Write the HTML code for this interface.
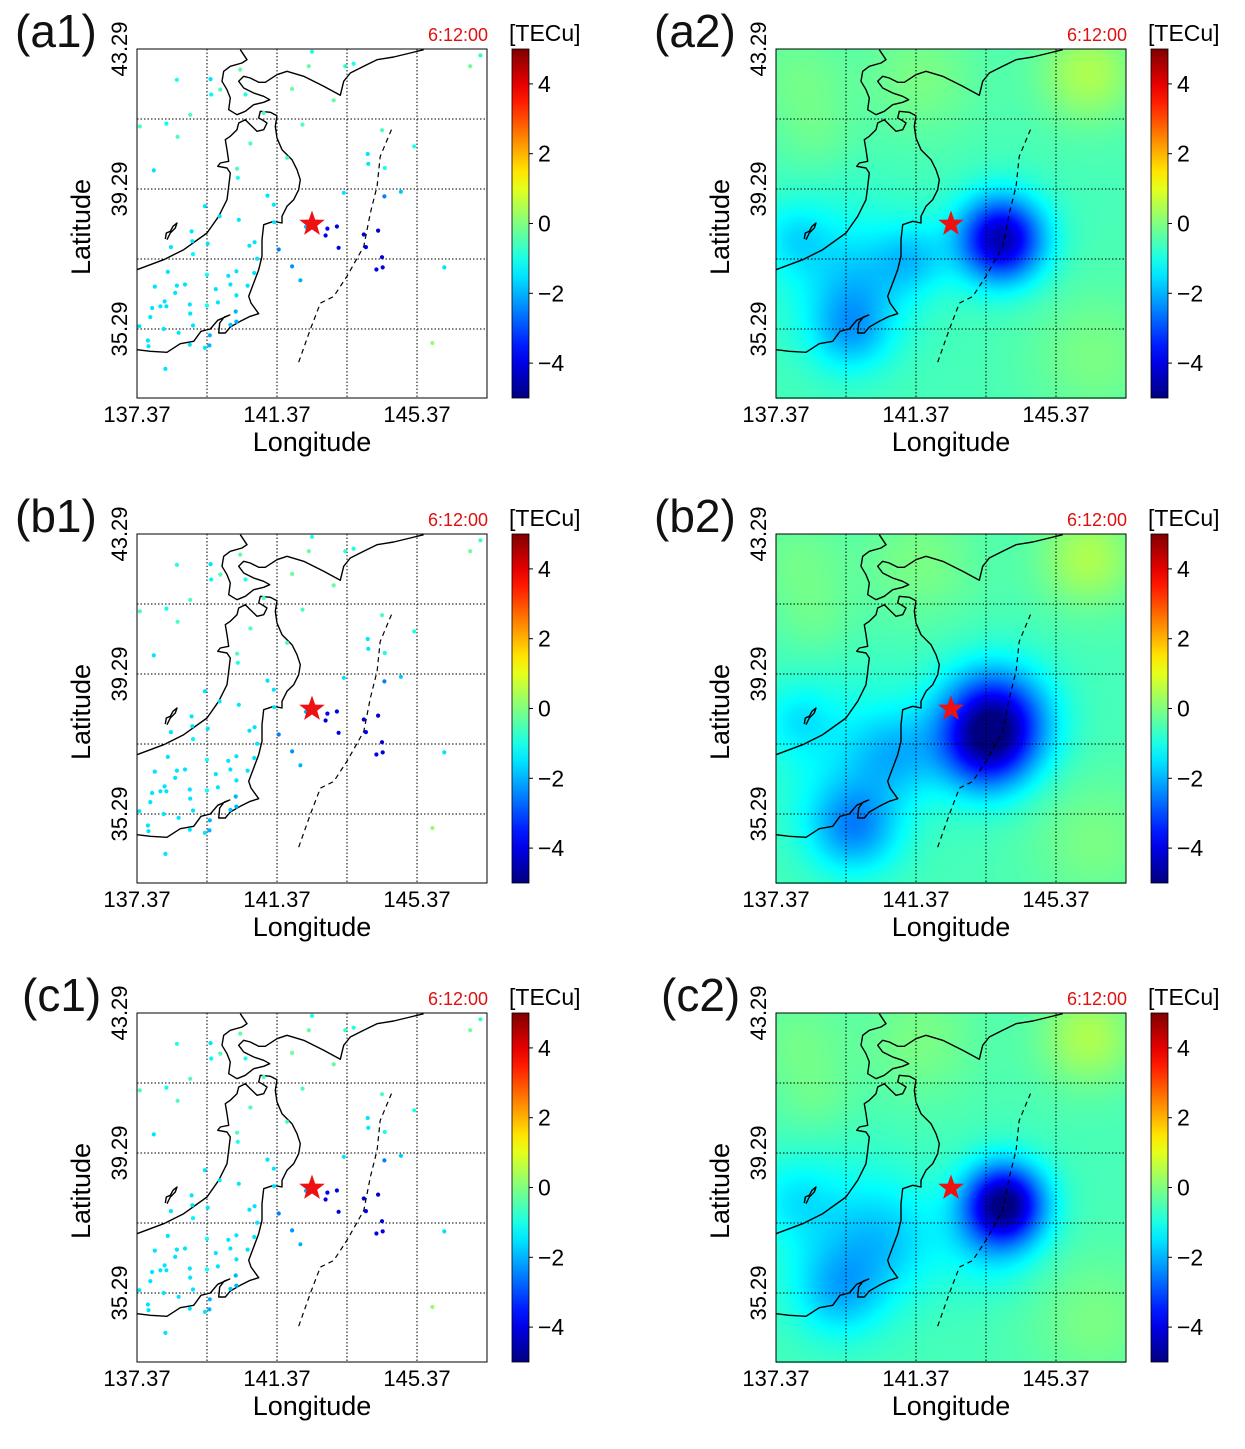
<!DOCTYPE html>
<html><head><meta charset="utf-8">
<style>
html,body{margin:0;padding:0;background:#fff;}
body{width:1245px;height:1438px;position:relative;overflow:hidden;font-family:"Liberation Sans","DejaVu Sans",sans-serif;}
.panel{position:absolute;width:639px;height:485px;}
.panel canvas{position:absolute;left:137px;top:49px;width:350px;height:350px;}
.panel svg{position:absolute;left:0;top:0;}
</style></head>
<body>
<div id="root"></div>
<script>
// ---- data ----
const lonMin = 137.37, latMax = 43.29, pxPerDeg = 35;
const lonTicks = [137.37, 141.37, 145.37];
const latTicks = [43.29, 39.29, 35.29];
const gridLons = [139.37, 141.37, 143.37, 145.37];
const gridLats = [41.29, 39.29, 37.29, 35.29];
const cbTicks = [4, 2, 0, -2, -4];
const cbMin = -5, cbMax = 5;
const epicenter = [142.37, 38.29];
const trenchLon = [141.99,142.32,142.61,142.99,143.37,143.85,144.04,144.23,144.32,144.66];
const trenchLat = [34.34,35.27,36.03,36.22,36.80,37.65,38.61,39.37,40.22,41.03];
const stLon = [138.51,139.47,139.49,139.75,140.32,140.47,141.80,142.28,142.37,143.32,143.56,142.99,146.89,147.18,140.99,138.89,137.45,138.21,138.53,142.10,144.37,145.29,143.96,143.98,144.45,140.61,141.66,140.23,140.25,137.85,141.10,141.28,143.28,144.91,144.44,139.31,139.73,140.28,141.29,142.20,142.81,143.08,142.76,143.13,143.85,144.26,143.91,144.37,144.39,144.21,138.93,138.95,138.97,138.34,139.39,140.58,140.73,140.80,141.42,141.80,142.04,140.21,139.98,139.37,140.72,138.25,146.15,138.51,137.88,138.74,139.62,140.04,140.53,138.46,140.21,138.16,138.04,138.21,138.88,139.37,139.68,137.80,138.89,137.75,140.19,140.21,140.04,138.97,138.13,137.44,138.56,139.45,139.44,137.68,137.70,138.88,139.31,138.18,145.81];
const stLat = [42.41,42.43,41.99,42.13,42.70,41.99,42.15,42.80,43.21,42.80,42.87,41.82,42.80,43.11,41.46,41.41,41.08,41.16,40.78,41.13,40.97,40.51,40.29,40.01,39.89,40.59,40.18,39.87,39.61,39.82,39.10,38.84,39.18,39.21,39.08,38.80,38.51,38.41,38.34,38.21,38.16,38.22,37.96,37.61,37.99,38.10,37.63,37.34,37.05,36.99,38.08,37.80,37.43,37.63,37.73,37.67,37.77,37.30,37.56,37.08,36.68,36.94,36.81,36.84,36.89,36.92,37.05,36.53,36.50,36.56,36.43,36.56,36.53,36.32,36.25,36.08,35.94,35.94,35.99,35.96,36.05,35.89,35.73,35.63,35.79,35.50,35.41,35.39,35.29,35.37,35.18,35.11,34.82,34.96,34.80,34.84,34.75,34.15,34.89];
const stVal = [-1,-1.5,-1.3,-0.5,-0.3,-1,-0.2,-0.3,-1,-0.8,-1,-0.3,-0.2,-0.8,-0.5,-0.5,-0.5,-1.2,-0.5,-0.5,-0.5,-1,-1.5,-1.5,-1,-0.5,-0.5,-0.5,-1,-1.5,-1.5,-1.5,-1.5,-1.8,-2.5,-1.5,-1.5,-1.5,-1.5,-2,-3.8,-4,-4,-4,-4.2,-4.3,-4,-4.2,-4,-4,-1.5,-1.5,-1.3,-1.5,-1.5,-1.5,-1.5,-1.5,-2.5,-2.3,-2,-1.5,-1.5,-1.2,-1.5,-1.5,-1.5,-1.5,-1.5,-1.5,-1.5,-1.5,-1.5,-1.5,-1.5,-1.5,-1.5,-1.5,-1.5,-1.2,-1.5,-1.5,-1.5,-1.5,-2,-2,-1.8,-1.5,-1.5,-1.5,-1.5,-2,-2,-1.5,-1.5,-1.5,-1.5,-1.5,0.2];
const fieldBase = -0.55;
const blobLonA = [143.8,139.5,139.8,141.3,137.9,146.3,141.5,138.0,146.5,138.5,139.3];
const blobLatA = [37.85,35.2,36.6,37.3,37.9,42.6,42.5,42.5,34.5,40.8,37.0];
const blobAmpA = [-4.0,-1.2,-0.6,-0.9,-0.7,1.0,0.5,0.4,0.5,0.3,-0.6];
const blobSigA = [0.85,0.8,1.0,0.7,0.7,1.0,1.2,1.0,1.3,0.8,1.6];
const blobLonB = [143.6,143.3,139.6,140.8,138.0,146.3,141.5,138.0,146.5,138.5,139.3];
const blobLatB = [37.9,37.0,34.9,37.0,38.0,42.6,42.5,42.5,34.5,40.8,37.0];
const blobAmpB = [-3.9,-1.5,-1.7,-1.0,-0.6,1.0,0.5,0.4,0.5,0.3,-0.6];
const blobSigB = [1.05,0.9,0.9,0.9,0.7,1.0,1.2,1.0,1.3,0.8,1.6];
const blobLonC = [143.9,139.2,140.5,137.9,143.5,146.3,141.5,138.0,146.5,138.5,139.3];
const blobLatC = [37.85,35.3,36.8,38.0,36.8,42.6,42.5,42.5,34.5,40.8,37.0];
const blobAmpC = [-4.2,-1.1,-0.8,-0.6,-0.8,1.0,0.5,0.4,0.5,0.3,-0.6];
const blobSigC = [0.8,0.9,1.1,0.8,1.0,1.0,1.2,1.0,1.3,0.8,1.6];
// basemap coastline (outline geometry, in 1/3-pixel units of map frame)
const coastHonshu = [[20,690],[100,660],[160,630],[230,580],[265,530],[290,480],[295,440],[300,400],[290,385],[262,380],[270,370],[295,365],[290,330],[285,300],[300,290],[320,270],[325,250],[345,240],[360,255],[380,275],[400,270],[410,250],[395,240],[385,235],[390,215],[420,218],[440,228],[435,260],[440,295],[455,330],[485,360],[500,390],[510,420],[505,450],[490,480],[470,500],[455,530],[455,550],[430,545],[400,555],[395,600],[395,650],[385,690],[370,730],[355,770],[362,790],[385,822],[360,830],[330,845],[300,862],[285,880],[265,880],[268,850],[282,832],[298,826],[262,842],[240,868],[212,875],[190,905],[150,912],[110,938],[60,935],[20,930]];
const coastHokkaido = [[330,30],[350,60],[335,70],[300,80],[280,95],[275,125],[290,150],[300,175],[295,210],[320,225],[345,215],[370,195],[400,188],[418,180],[400,170],[370,160],[340,145],[325,125],[340,110],[360,115],[385,128],[405,128],[440,105],[470,95],[520,110],[580,140],[630,167],[640,125],[660,100],[700,80],[740,60],[790,52],[840,40],[880,30]];
const coastSado = [[110,600],[120,580],[135,565],[140,550],[128,560],[120,575],[108,580],[105,598]];

// ---- helpers ----
const NS = "http://www.w3.org/2000/svg";
const mx0 = 137, my0 = 49;
function xOf(lon){ return mx0 + (lon - lonMin) * pxPerDeg; }
function yOf(lat){ return my0 + (latMax - lat) * pxPerDeg; }
function bx(z){ return mx0 + (z - 20) / 3; }
function by(z){ return my0 + (z - 28) / 3; }
function jet(v){
  let t = (v - cbMin) / (cbMax - cbMin); t = Math.max(0, Math.min(1, t));
  const c = x => Math.round(255 * Math.max(0, Math.min(1, x)));
  return [c(1.5 - Math.abs(4*t-3)), c(1.5 - Math.abs(4*t-2)), c(1.5 - Math.abs(4*t-1))];
}
function rgb(a){ return "rgb(" + a.join(",") + ")"; }
function mk(tag, attrs, parent){
  const e = document.createElementNS(NS, tag);
  for (const k in attrs) e.setAttribute(k, attrs[k]);
  parent.appendChild(e); return e;
}
function txt(parent, s, attrs){ const t = mk("text", attrs, parent); t.textContent = s; return t; }

const root = document.getElementById("root");
const panels = [
  {id:"a1", x:0, y:0, type:"dots"}, {id:"a2", x:639, y:0, type:"field", bl:blobLonA, bt:blobLatA, ba:blobAmpA, bs:blobSigA},
  {id:"b1", x:0, y:485, type:"dots"}, {id:"b2", x:639, y:485, type:"field", bl:blobLonB, bt:blobLatB, ba:blobAmpB, bs:blobSigB},
  {id:"c1", x:0, y:964, type:"dots"}, {id:"c2", x:639, y:964, type:"field", bl:blobLonC, bt:blobLatC, ba:blobAmpC, bs:blobSigC}
];

panels.forEach(p => {
  const div = document.createElement("div");
  div.className = "panel";
  div.style.left = p.x + "px"; div.style.top = p.y + "px";
  
  
  root.appendChild(div);
  if (p.type === "field") {
    const cv = document.createElement("canvas");
    cv.width = 175; cv.height = 175;
    
    
    div.appendChild(cv);
    const ctx = cv.getContext("2d");
    const img = ctx.createImageData(175, 175);
    for (let j = 0; j < 175; j++) for (let i = 0; i < 175; i++) {
      const lon = lonMin + (i*2+1) / pxPerDeg, lat = latMax - (j*2+1) / pxPerDeg;
      let v = fieldBase;
      for (let k = 0; k < p.bl.length; k++) {
        const dx = lon - p.bl[k], dy = lat - p.bt[k];
        v += p.ba[k] * Math.exp(-(dx*dx + dy*dy) / (2 * p.bs[k] * p.bs[k]));
      }
      const c = jet(v); const o = (j*175+i)*4;
      img.data[o]=c[0]; img.data[o+1]=c[1]; img.data[o+2]=c[2]; img.data[o+3]=255;
    }
    ctx.putImageData(img, 0, 0);
  }
  const svg = mk("svg", {width:639, height:485, viewBox:"0 0 639 485"}, div);
  const lbl = txt(svg, "(" + p.id + ")", {x: p.id === "c1" || p.id === "c2" ? 22 : 15, y:47, "font-size":46, fill:"#111"});
  
  
  gridLons.forEach(g => {
    const l = mk("line", {x1:xOf(g), x2:xOf(g), y1:49, y2:398, stroke:"#000", "stroke-width":1, "stroke-dasharray":"1.5,2"}, svg);
    
    
  });
  gridLats.forEach(g => {
    const l = mk("line", {x1:137, x2:487, y1:yOf(g), y2:yOf(g), stroke:"#000", "stroke-width":1, "stroke-dasharray":"1.5,2"}, svg);
    
    
  });
  [coastHonshu, coastHokkaido, coastSado].forEach(c => {
    const pth = mk("polyline", {points: c.map(q => bx(q[0]).toFixed(1) + "," + by(q[1]).toFixed(1)).join(" "), fill:"none", stroke:"#000", "stroke-width":1.4, "stroke-linejoin":"round"}, svg);
    
    
  });
  const tr = mk("polyline", {points: trenchLon.map((l, i) => xOf(l).toFixed(1) + "," + yOf(trenchLat[i]).toFixed(1)).join(" "), fill:"none", stroke:"#000", "stroke-width":1.2, "stroke-dasharray":"5,4"}, svg);
  
  
  if (p.type === "dots") {
    stLon.forEach((l, i) => {
      const d = mk("circle", {cx:xOf(l).toFixed(1), cy:yOf(stLat[i]).toFixed(1), r:2.1, fill:rgb(jet(stVal[i]))}, svg);
      
      
    });
  }
  const sx = xOf(epicenter[0]), sy = yOf(epicenter[1]);
  let pts = [];
  for (let k = 0; k < 10; k++) {
    const r = k % 2 ? 5.5 : 13.5, a = -Math.PI/2 + k * Math.PI / 5;
    pts.push((sx + r*Math.cos(a)).toFixed(1) + "," + (sy + r*Math.sin(a)).toFixed(1));
  }
  const st = mk("polygon", {points: pts.join(" "), fill:"#ee1111"}, svg);
  
  
  const fr = mk("rect", {x:137, y:49, width:350, height:349, fill:"none", stroke:"#000", "stroke-width":1}, svg);
  
  
  const tm = txt(svg, "6:12:00", {x:488, y:41, "font-size":18, fill:"#dd1111", "text-anchor":"end"});
  
  
  lonTicks.forEach(t => {
    const e = txt(svg, t.toFixed(2), {x:xOf(t), y:422, "font-size":22, "text-anchor":"middle", fill:"#000"});
    
    
  });
  const xt = txt(svg, "Longitude", {x:312, y:451, "font-size":27, "text-anchor":"middle", fill:"#000"});
  
  
  latTicks.forEach(t => {
    const y = yOf(t);
    const e = txt(svg, t.toFixed(2), {x:0, y:0, "font-size":22, "text-anchor":"middle", fill:"#000", transform:"translate(127," + y + ") rotate(-90)"});
    
    
  });
  const yt = txt(svg, "Latitude", {x:0, y:0, "font-size":27, "text-anchor":"middle", fill:"#000", transform:"translate(90,227) rotate(-90)"});
  
  
  const defs = mk("defs", {}, svg);
  const grad = mk("linearGradient", {id:"jet" + p.id, x1:0, y1:1, x2:0, y2:0}, defs);
  for (let k = 0; k <= 20; k++) {
    const v = cbMin + (cbMax - cbMin) * k / 20;
    mk("stop", {offset: (k/20), "stop-color": rgb(jet(v))}, grad);
  }
  const cb = mk("rect", {x:512, y:49, width:17, height:349, fill:"url(#jet" + p.id + ")", stroke:"#000", "stroke-width":0.8}, svg);
  
  
  cbTicks.forEach(t => {
    const y = 49 + (cbMax - t) / (cbMax - cbMin) * 349;
    mk("line", {x1:529, x2:533, y1:y, y2:y, stroke:"#000", "stroke-width":1}, svg);
    const e = txt(svg, t < 0 ? "\u2212" + (-t) : String(t), {x:538, y:y + 8, "font-size":23, fill:"#000"});
    
    
  });
  const un = txt(svg, "[TECu]", {x:509, y:41, "font-size":23, fill:"#000"});
  
  
});
</script>
</body></html>
